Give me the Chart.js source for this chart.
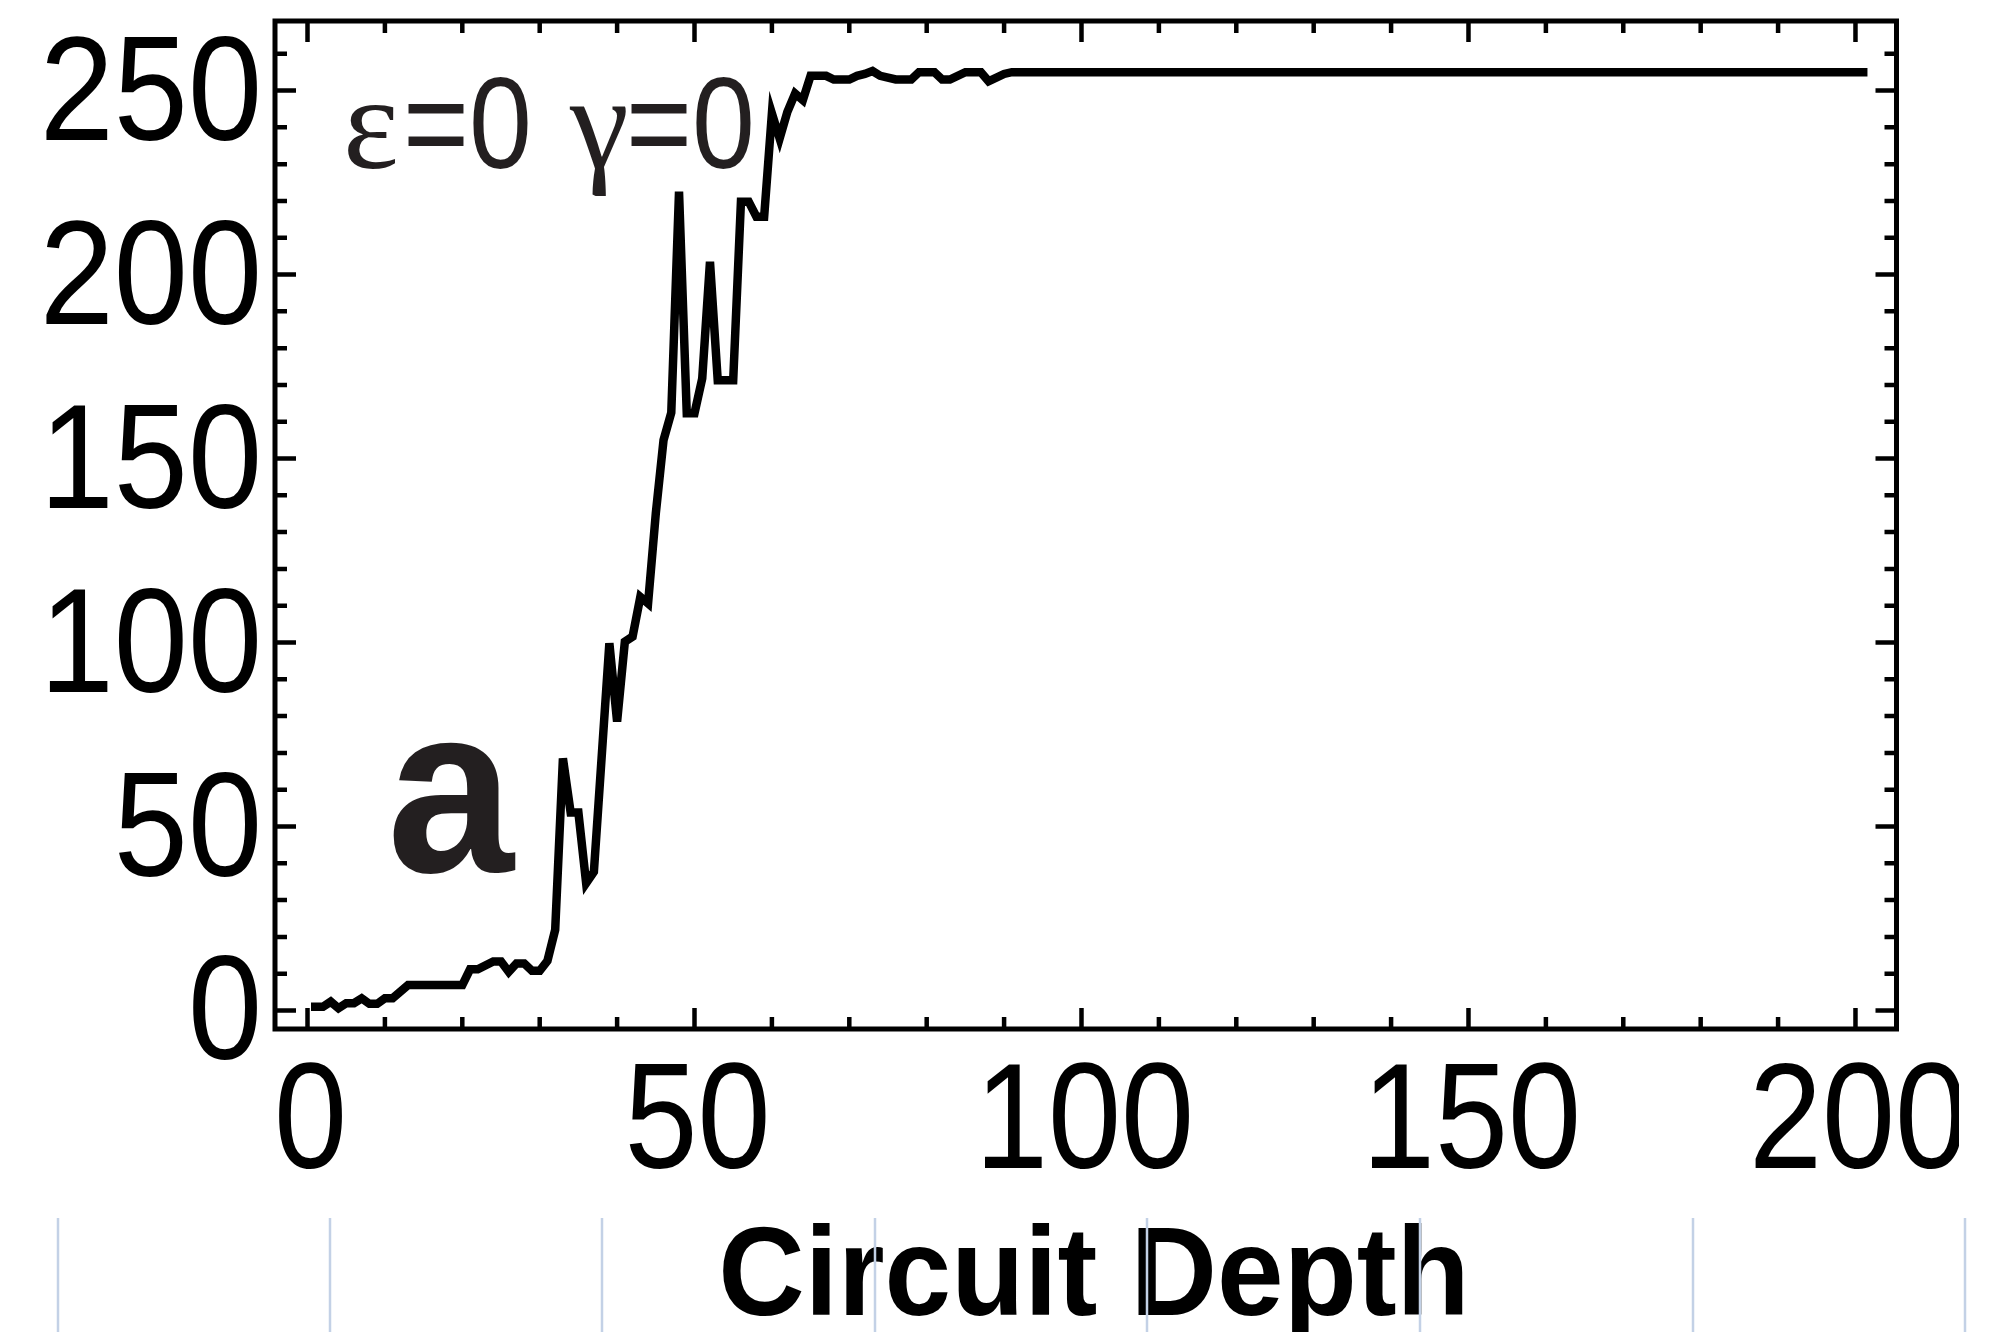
<!DOCTYPE html>
<html>
<head>
<meta charset="utf-8">
<script src="https://cdn.jsdelivr.net/npm/chart.js@4.4.1/dist/chart.umd.min.js"></script>
<style>
  html, body { margin: 0; padding: 0; background: #fff; }
  #wrap { width: 2008px; height: 1332px; }
</style>
</head>
<body>
<div id="wrap"><canvas id="depthChart" width="2008" height="1332"></canvas></div>
<script>
// Data (only the corners of the curve)
var depth = [1, 2, 3, 4, 5, 6, 7, 8, 9, 10, 11, 13, 20, 21, 22, 24, 25, 26, 27, 28, 29, 30, 31, 32, 33, 34, 35, 36, 37,
  39, 40, 41, 42, 43, 44, 45, 46, 47, 48, 49, 50, 51, 52, 53, 55, 56, 57, 58, 59, 60, 61, 62, 63, 64, 65,
  67, 68, 70, 71, 72, 73, 74, 76, 78, 79, 81, 82, 83, 85, 87, 88, 90, 91, 201];
var values = [1.0, 1.0, 2.4, 0.6, 2.0, 2.0, 3.3, 1.8, 1.8, 3.3, 3.3, 6.9, 6.9, 11.2, 11.2, 13.3, 13.3, 10.5, 12.8, 12.8, 10.8, 10.8, 13.5, 21.9, 68.5, 53.8, 53.8, 34.6, 37.7,
  99.8, 78.5, 100.2, 101.6, 112.4, 110.6, 135.1, 155, 162.5, 222.5, 162.3, 162.3, 171.8, 203.5, 171.3, 171.3, 219.8, 219.8, 215.7, 215.7, 243.8, 237, 244.2, 249.2, 247.4, 254,
  254, 253, 253, 254, 254.5, 255.3, 254, 253, 253, 255, 255, 253, 253, 255, 255, 252.5, 254.5, 255, 255];

var xTickLabels = [0, 50, 100, 150, 200];
var yTickLabels = [0, 50, 100, 150, 200, 250];
var xTitle = "Circuit Depth";
var panelLabel = "a";
var noteParts = ["\u03B5", "=0", "\u03B3", "=0"];

var SANS = "'Liberation Sans', Arial, Helvetica, sans-serif";
var SERIF = "'Liberation Serif', 'Times New Roman', serif";

// draw text squeezed horizontally by sx
function drawText(ctx, text, x, y, sx, align) {
  ctx.save();
  ctx.translate(x, y);
  ctx.scale(sx, 1);
  ctx.textAlign = align;
  ctx.textBaseline = "alphabetic";
  ctx.fillText(text, 0, 0);
  ctx.restore();
}

var frameAndLabels = {
  id: "frameAndLabels",
  beforeDatasetsDraw: function (chart) {
    var ctx = chart.ctx;
    ctx.save();
    ctx.fillStyle = "#231f20";

    // panel letter
    ctx.font = "bold 240px " + SANS;
    drawText(ctx, panelLabel, 387, 872, 0.95, "left");

    // epsilon / gamma note
    ctx.font = "133px " + SERIF;
    drawText(ctx, noteParts[0], 343, 168, 1, "left");
    drawText(ctx, noteParts[2], 570, 168, 1, "left");
    ctx.font = "130px " + SANS;
    drawText(ctx, noteParts[1], 403, 168, 0.87, "left");
    drawText(ctx, noteParts[3], 626, 168, 0.87, "left");
    ctx.restore();
  },
  afterDraw: function (chart) {
    var ctx = chart.ctx;
    var area = chart.chartArea;
    var xs = chart.scales.x;
    var ys = chart.scales.y;
    var v, px, py, len;

    ctx.save();
    ctx.strokeStyle = "#000";
    ctx.lineWidth = 5;
    ctx.lineCap = "butt";

    // frame
    ctx.strokeRect(area.left, area.top, area.right - area.left, area.bottom - area.top);

    // inward ticks, all four sides
    ctx.lineWidth = 4.5;
    ctx.beginPath();
    for (v = 0; v <= 200; v += 10) {
      px = xs.getPixelForValue(v);
      len = v % 50 === 0 ? 21 : 12;
      ctx.moveTo(px, area.bottom);
      ctx.lineTo(px, area.bottom - len);
      ctx.moveTo(px, area.top);
      ctx.lineTo(px, area.top + len);
    }
    for (v = 0; v <= 260; v += 10) {
      py = ys.getPixelForValue(v);
      len = v % 50 === 0 ? 21 : 12;
      ctx.moveTo(area.left, py);
      ctx.lineTo(area.left + len, py);
      ctx.moveTo(area.right, py);
      ctx.lineTo(area.right - len, py);
    }
    ctx.stroke();

    // tick labels
    ctx.fillStyle = "#000";
    ctx.font = "148px " + SANS;
    yTickLabels.forEach(function (t) {
      drawText(ctx, String(t), 262, ys.getPixelForValue(t) + 49, 0.9, "right");
    });

    ctx.save();
    ctx.beginPath();
    ctx.rect(0, 0, 1959, 1332);
    ctx.clip();
    ctx.font = "151px " + SANS;
    xTickLabels.forEach(function (t) {
      drawText(ctx, String(t), xs.getPixelForValue(t) + 3, 1168, 0.87, "center");
    });
    ctx.restore();

    // axis title
    ctx.font = "bold 126px " + SANS;
    drawText(ctx, xTitle, 1094, 1315, 0.95, "center");

    // faint ruler lines along the bottom edge
    ctx.strokeStyle = "#c3d1e6";
    ctx.lineWidth = 2.5;
    ctx.beginPath();
    [58, 330, 602, 875, 1147, 1420, 1693, 1965].forEach(function (x) {
      ctx.moveTo(x, 1218);
      ctx.lineTo(x, 1332);
    });
    ctx.stroke();
    ctx.restore();
  }
};

var points = depth.map(function (d, i) {
  return { x: d, y: values[i] };
});

var ctx = document.getElementById("depthChart").getContext("2d");
var depthChart = new Chart(ctx, {
  type: "scatter",
  data: {
    datasets: [
      {
        data: points,
        showLine: true,
        borderColor: "#000",
        backgroundColor: "#000",
        borderWidth: 8.5,
        borderCapStyle: "square",
        borderJoinStyle: "miter",
        pointRadius: 0,
        tension: 0,
      },
    ],
  },
  options: {
    responsive: false,
    animation: false,
    devicePixelRatio: 1,
    events: [],
    layout: {
      padding: { left: 275, top: 21, right: 111.5, bottom: 303 },
    },
    plugins: {
      legend: { display: false },
      tooltip: { enabled: false },
    },
    scales: {
      x: { type: "linear", min: -4.2, max: 205.3, display: false },
      y: { type: "linear", min: -5.03, max: 268.9, display: false },
    },
  },
  plugins: [frameAndLabels],
});
</script>
</body>
</html>
